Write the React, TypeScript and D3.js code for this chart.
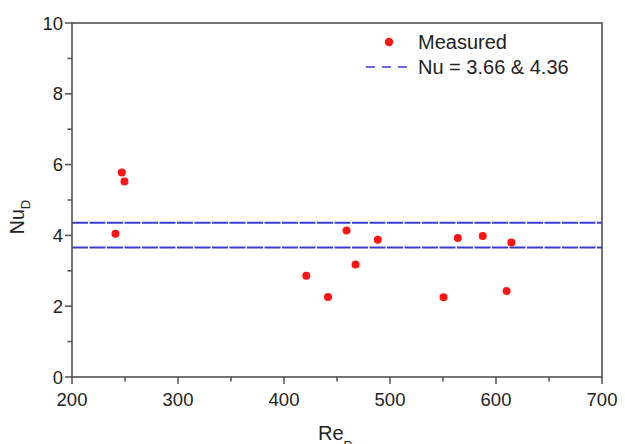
import * as d3 from 'd3';
import { useEffect } from 'react';

const WIDTH = 625, HEIGHT = 444;
const M = { left: 72, right: 602, top: 23, bottom: 377 };

// measured points
const reD = [241, 247, 249.5, 421, 441.5, 459, 467.5, 488.5, 550.5, 564, 587.5, 610, 614.5];
const nuD = [4.05, 5.78, 5.52, 2.86, 2.26, 4.14, 3.18, 3.88, 2.25, 3.93, 3.98, 2.43, 3.8];

// constant-wall-temperature / constant-flux reference values
const nuRef = [3.66, 4.36];

const xTicks = [200, 300, 400, 500, 600, 700];
const yTicks = [0, 2, 4, 6, 8, 10];

const x = d3.scaleLinear().domain([200, 700]).range([M.left, M.right]);
const y = d3.scaleLinear().domain([0, 10]).range([M.bottom, M.top]);

const FONT = 'Liberation Sans, Arial, sans-serif';
const INK = '#222';
const AXIS = '#505050';
const BLUE = '#3b3bd6';
const RED = '#ff1414';

const App = () => {
    useEffect(() => {
        document.body.style.margin = '0';
    }, []);

    const xMinor = d3.range(250, 700, 100);
    const yMinor = d3.range(1, 10, 2);

    return (
        <svg width={WIDTH} height={HEIGHT} style={{ display: 'block', background: '#fff' }}>
            {/* reference lines */}
            {nuRef.map((v) => (
                <line key={v} x1={x(200)} x2={x(700)} y1={y(v)} y2={y(v)}
                    stroke={BLUE} strokeWidth={2} strokeDasharray="16 1.5" />
            ))}

            {/* data */}
            {reD.map((r, i) => (
                <circle key={i} cx={x(r)} cy={y(nuD[i])} r={4} fill={RED} />
            ))}

            {/* frame */}
            <rect x={M.left} y={M.top} width={M.right - M.left} height={M.bottom - M.top}
                fill="none" stroke={AXIS} strokeWidth={1.6} />

            {/* x axis ticks */}
            {xTicks.map((t) => (
                <g key={t}>
                    <line x1={x(t)} x2={x(t)} y1={M.bottom} y2={M.bottom + 7} stroke={AXIS} strokeWidth={1.5} />
                    <text x={x(t)} y={M.bottom + 29} textAnchor="middle" fontFamily={FONT} fontSize={18.5} fill={INK}>{t}</text>
                </g>
            ))}
            {xMinor.map((t) => (
                <line key={t} x1={x(t)} x2={x(t)} y1={M.bottom} y2={M.bottom + 4.5} stroke={AXIS} strokeWidth={1.5} />
            ))}

            {/* y axis ticks */}
            {yTicks.map((t) => (
                <g key={t}>
                    <line x1={M.left - 7} x2={M.left} y1={y(t)} y2={y(t)} stroke={AXIS} strokeWidth={1.5} />
                    <text x={M.left - 9} y={y(t) + 6.5} textAnchor="end" fontFamily={FONT} fontSize={18.5} fill={INK}>{t}</text>
                </g>
            ))}
            {yMinor.map((t) => (
                <line key={t} x1={M.left - 4.5} x2={M.left} y1={y(t)} y2={y(t)} stroke={AXIS} strokeWidth={1.5} />
            ))}

            {/* axis titles */}
            <text x={318} y={439.5} fontFamily={FONT} fontSize={20} fill={INK}>
                Re<tspan fontSize={13} dy={10}>D</tspan>
            </text>
            <text transform="translate(23.5,217) rotate(-90)" textAnchor="middle"
                fontFamily={FONT} fontSize={19.5} fill={INK}>
                Nu<tspan fontSize={13} dy={6.5}>D</tspan>
            </text>

            {/* legend */}
            <circle cx={389} cy={42} r={4.2} fill={RED} />
            <text x={418} y={49} fontFamily={FONT} fontSize={20} fill={INK}>Measured</text>
            <line x1={366} x2={407} y1={67} y2={67} stroke={BLUE} strokeWidth={1.6} strokeDasharray="9 7" />
            <text x={418} y={73.5} fontFamily={FONT} fontSize={20} fill={INK}>Nu = 3.66 &amp; 4.36</text>
        </svg>
    );
};

export default App;
